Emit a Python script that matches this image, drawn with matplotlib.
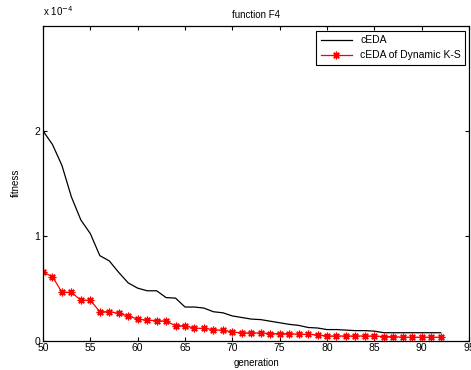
import matplotlib
matplotlib.use("Agg")
import matplotlib.pyplot as plt
import numpy as np

plt.rcParams['font.family'] = ['Liberation Sans', 'DejaVu Sans']

generations = list(range(50, 93))
ceda = [2.00, 1.87, 1.67, 1.37, 1.15, 1.02, 0.81, 0.76, 0.65, 0.55,
        0.50, 0.475, 0.475, 0.41, 0.405, 0.32, 0.32, 0.31, 0.275, 0.265,
        0.235, 0.22, 0.205, 0.20, 0.185, 0.17, 0.155, 0.145, 0.125, 0.12,
        0.105, 0.105, 0.10, 0.095, 0.095, 0.09, 0.075, 0.075, 0.075, 0.075,
        0.075, 0.075, 0.075]
ceda_ks = [0.652, 0.61, 0.46, 0.46, 0.385, 0.385, 0.275, 0.275, 0.26, 0.235,
           0.205, 0.195, 0.19, 0.185, 0.142, 0.142, 0.117, 0.117, 0.104, 0.098,
           0.082, 0.073, 0.073, 0.073, 0.066, 0.066, 0.066, 0.06, 0.06, 0.054,
           0.044, 0.044, 0.044, 0.044, 0.044, 0.044, 0.038, 0.038, 0.032, 0.032,
           0.032, 0.032, 0.032]
scale = 1e-4
ceda_v = np.array(ceda) * scale
ceda_ks_v = np.array(ceda_ks) * scale

fig = plt.figure(figsize=(4.71, 3.70), dpi=100)
ax = fig.add_axes([0.0913, 0.0795, 0.9045, 0.8502])

ax.plot(generations, ceda_v, color='black', lw=0.9, label='cEDA')
ax.plot(generations, ceda_ks_v, color='red', lw=0.9, marker=(8, 2, 0), ms=5.5,
        markeredgewidth=0.9, label='cEDA of Dynamic K-S')

ax.set_xlim(50, 95)
ax.set_ylim(0, 3e-4)
ax.set_xticks(range(50, 96, 5))
ax.set_yticks([0, 1e-4, 2e-4])
ax.set_yticklabels(['0', '1', '2'])
ax.tick_params(direction='in', top=True, right=True, labelsize=7.5, length=3, width=0.8, pad=2)
for s in ax.spines.values():
    s.set_linewidth(0.9)

ax.set_title('function F4', fontsize=7, pad=6)
ax.set_xlabel('generation', fontsize=7, labelpad=3)
ax.set_ylabel('fitness', fontsize=7)
ax.yaxis.set_label_coords(-0.051, 0.5)
fig.text(0.091, 0.952, r'x 10$^{-4}$', fontsize=7, ha='left', va='bottom')

leg = ax.legend(loc='upper right', fontsize=7.5, fancybox=False, framealpha=1,
                edgecolor='black', borderpad=0.4, handlelength=3.0, numpoints=1,
                borderaxespad=0, bbox_to_anchor=(0.9906, 0.984))
leg.get_frame().set_linewidth(0.8)

fig.savefig('out.png', dpi=100)
